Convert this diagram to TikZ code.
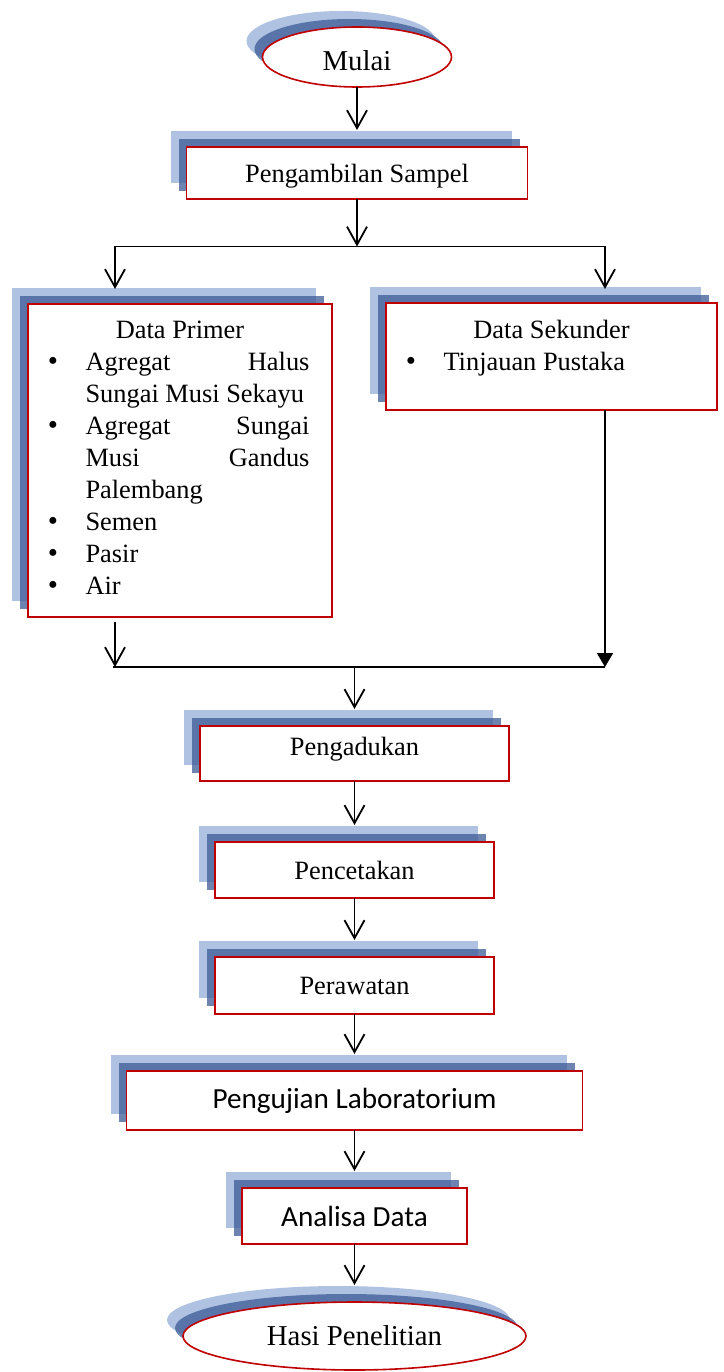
\documentclass[tikz,border=0pt]{standalone}
\usepackage{fontspec}
\setmainfont{Liberation Serif}
\newfontfamily\calfont{Carlito}
\usetikzlibrary{arrows.meta,positioning,shapes.geometric,shadows}

\definecolor{boxred}{RGB}{192,0,0}
\definecolor{shadelight}{RGB}{176,194,226}
\definecolor{shadedark}{RGB}{60,90,150}

\hyphenpenalty=10000
\exhyphenpenalty=10000
\tolerance=10000
\hbadness=10000

% bullet item with hanging indent
\newcommand{\bitem}{\par\hangindent=35pt\hangafter=1\noindent
  \makebox[35pt][l]{\kern-2.6pt{\fontsize{29pt}{30pt}\selectfont\textbullet}}}

\begin{document}
\begin{tikzpicture}[x=1pt, y=1pt, node distance=58pt,
      box/.style={draw=boxred, line width=1.6pt, fill=white, inner sep=0pt, outer sep=0pt,
        font=\fontsize{26.4pt}{32pt}\selectfont,
        general shadow={shadow xshift=-16pt, shadow yshift=16pt, fill=shadelight},
        general shadow={shadow xshift=-8pt, shadow yshift=8pt, fill=shadedark, fill opacity=.75}},
      oval/.style={box, ellipse, font=\fontsize{28.8pt}{34pt}\selectfont},
      calbox/.style={box, font=\calfont\fontsize{29.2pt}{35pt}\selectfont},
      listbox/.style={box, align=justify, inner xsep=22.5pt},
      arr/.style={-{Straight Barb[length=18pt,width=20pt]}, line width=1.8pt},
      arrfill/.style={-{Triangle[length=14pt,width=16pt]}, line width=1.8pt},
      line/.style={line width=1.8pt}]
    \useasboundingbox (0,0) rectangle (723,-1372);

    \node[oval, minimum width=189pt, minimum height=60pt, text height=27pt] (mulai) at (357,-57) {Mulai};
    \node[box, minimum width=341pt, minimum height=52pt, below=60pt of mulai, text depth=0pt] (sampel) {Pengambilan Sampel};
    \node[listbox, minimum width=304pt, minimum height=313pt, text width=259pt] (primer) at (180,-460.5) {%
      {\centering\noindent Data Primer\par}
      \bitem Agregat Halus\linebreak Sungai Musi Sekayu
      \bitem Agregat Sungai\linebreak Musi Gandus\linebreak Palembang
      \bitem Semen
      \bitem Pasir
      \bitem Air\rule[-5pt]{0pt}{0pt}};
    \node[listbox, minimum width=331pt, minimum height=107pt, text width=286pt] (sekunder) at (551.5,-356.5) {%
      {\centering\noindent Data Sekunder\par}
      \bitem Tinjauan Pustaka\rule[-22.5pt]{0pt}{0pt}};
    \node[box, minimum width=309pt, minimum height=55pt, text depth=14pt] (aduk) at (354.5,-753.5) {Pengadukan};
    \node[box, minimum width=279pt, minimum height=56pt, below=61pt of aduk] (cetak) {Pencetakan};
    \node[box, minimum width=279pt, minimum height=57pt, below=59pt of cetak] (rawat) {Perawatan};
    \node[calbox, minimum width=456pt, minimum height=59pt, below=57pt of rawat] (uji) {Pengujian Laboratorium};
    \node[calbox, minimum width=225pt, minimum height=56pt, below=of uji] (analisa) {Analisa Data};
    \node[oval, minimum width=343pt, minimum height=68pt, below=of analisa] (hasil) {Hasi Penelitian};

    % split and join points
    \coordinate (splitL) at (115,-246.5);
    \coordinate (splitR) at (605,-246.5);
    \coordinate (splitM) at (sampel.south |- splitL);
    \coordinate (primerin) at (115,-289);
    \coordinate (sekunderin) at (605,-289);
    \coordinate (primerout) at (115,-622);
    \coordinate (joinL) at (113,-667);
    \coordinate (joinR) at (605,-667);
    \coordinate (joinM) at (aduk.north |- joinL);

    \draw[arr] (mulai.south) -- ([yshift=17pt]sampel.north);
    \draw[arr] (sampel.south) -- (splitM);
    \draw[line] (splitL) -- (splitR);
    \draw[arr] (splitL) -- (primerin);
    \draw[arr] (splitR) -- (sekunderin);
    \draw[arr] (primerout) -- (primerout |- joinL);
    \draw[arrfill] (sekunder.south -| joinR) -- (joinR);
    \draw[line] (joinL) -- (joinR);
    \draw[arr] (joinM) -- ([yshift=17pt]aduk.north);
    \draw[arr] (aduk.south) -- ([yshift=17pt]cetak.north);
    \draw[arr] (cetak.south) -- ([yshift=17pt]rawat.north);
    \draw[arr] (rawat.south) -- ([yshift=17pt]uji.north);
    \draw[arr] (uji.south) -- ([yshift=17pt]analisa.north);
    \draw[arr] (analisa.south) -- ([yshift=17pt]hasil.north);
  \end{tikzpicture}
\end{document}
